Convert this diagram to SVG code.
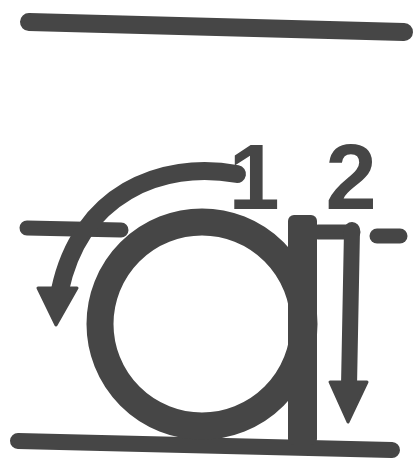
<svg xmlns="http://www.w3.org/2000/svg" width="414" height="461" viewBox="0 0 414 461">
<style>
.ln{stroke:#464646;fill:none;stroke-linecap:round;stroke-linejoin:round}
.fl{fill:#464646}
.num{font-family:"Liberation Sans",Arial,sans-serif;font-weight:bold;font-size:92px;fill:#464646;text-anchor:middle}
</style>
<rect width="414" height="461" fill="#ffffff"/>
<g id="guides">
<line class="ln" x1="29" y1="22" x2="404" y2="32" stroke-width="18"/>
<line class="ln" x1="18" y1="441" x2="392" y2="450" stroke-width="16"/>
<line class="ln" x1="27" y1="228" x2="121" y2="230" stroke-width="15"/>
<line class="ln" x1="318" y1="232" x2="353" y2="232" stroke-width="15"/>
<line class="ln" x1="377" y1="236" x2="400" y2="236" stroke-width="15"/>
</g>
<g id="letter-a">
<circle class="ln" cx="202" cy="324" r="102" stroke-width="27"/>
<rect class="fl" x="288" y="215" width="29" height="230" rx="6"/>
</g>
<g id="connectors">
<path class="ln" d="M237 174 C160 160 80 195 60 290" stroke-width="18"/>
<polygon class="fl" points="38,288 77,288 56,325" stroke="#464646" stroke-width="3" stroke-linejoin="round"/>
<line class="ln" x1="352" y1="230" x2="349" y2="386" stroke-width="16"/>
<polygon class="fl" points="330,382 367,382 348,422" stroke="#464646" stroke-width="3" stroke-linejoin="round"/>
</g>
<g id="label-1"><text class="num" x="254" y="209">1</text></g>
<g id="label-2"><text class="num" x="351" y="209">2</text></g>
</svg>
